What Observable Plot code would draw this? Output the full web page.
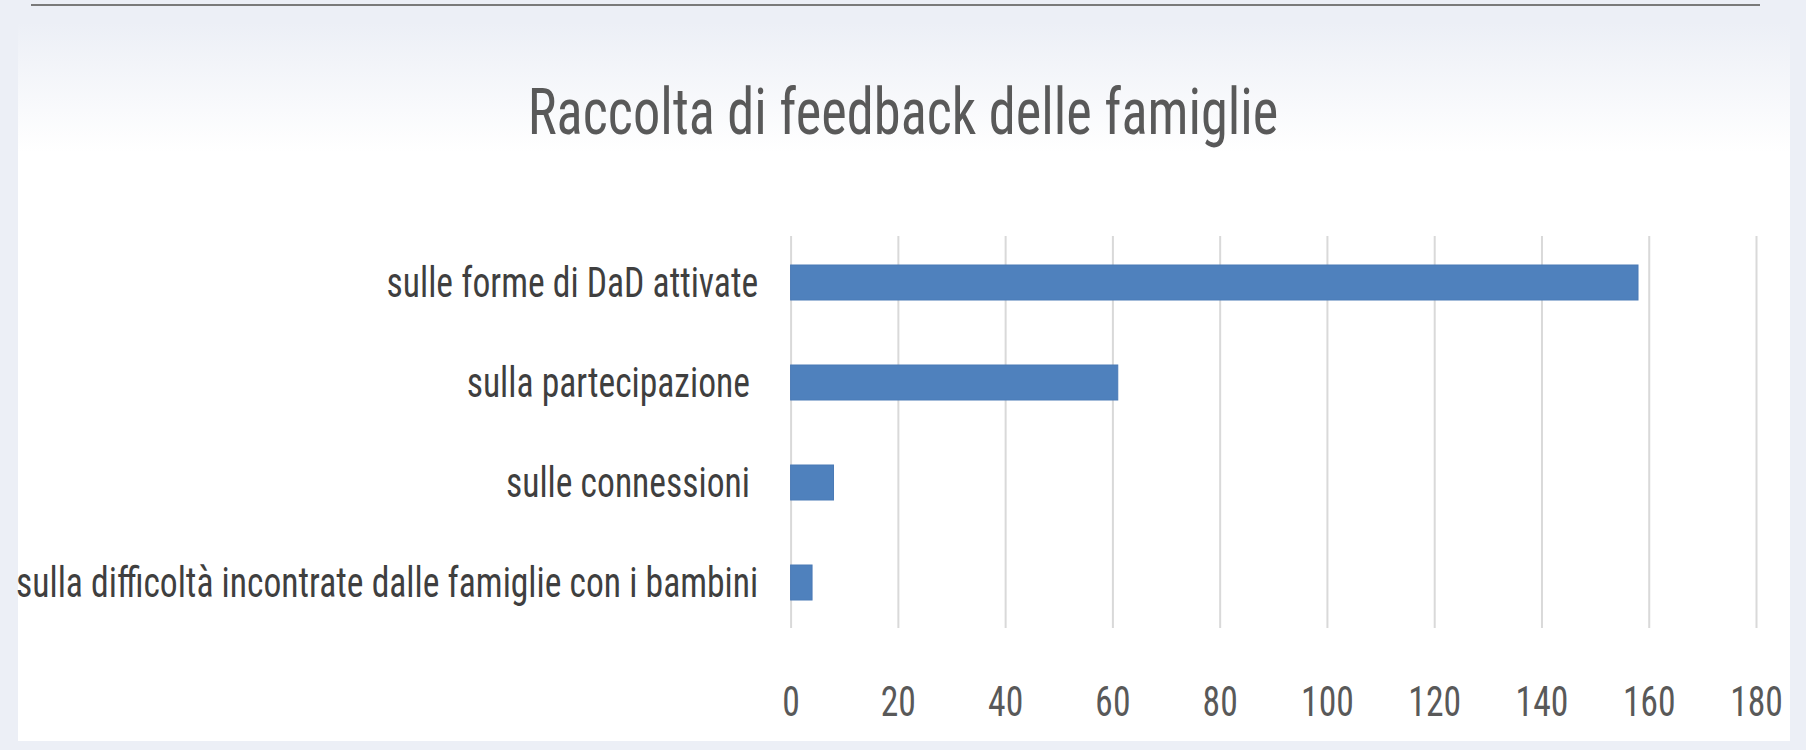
<!DOCTYPE html>
<html>
<head>
<meta charset="utf-8">
<script src="https://cdn.jsdelivr.net/npm/d3@7"></script>
<script src="https://cdn.jsdelivr.net/npm/@observablehq/plot@0.6"></script>
<style>
  html, body { margin: 0; padding: 0; }
  body { width: 1806px; height: 750px; position: relative; overflow: hidden; background: #eceff6;
         font-family: "Roboto Condensed", "DejaVu Sans Condensed", sans-serif; }
  #topline { position: absolute; left: 31px; top: 4px; width: 1729px; height: 2px; background: #7a7a7a; }
  #panel { position: absolute; left: 18px; top: 22px; width: 1772px; height: 719px;
           background: linear-gradient(to bottom, #eceff6 0px, #ffffff 130px); }
  #title { position: absolute; left: 0; width: 1806px; top: 86px; text-align: center;
           font-size: 54.4px; line-height: 1; color: #595959; transform: scaleY(1.19); transform-origin: center; }
  #chart { position: absolute; left: 0; top: 180px; }
  #chart text { white-space: pre; }
</style>
</head>
<body>
<div id="topline"></div>
<div id="panel"></div>
<div id="title">Raccolta di feedback delle famiglie</div>
<div id="chart"></div>
<script>
const categories = [
  "sulle forme di DaD attivate",
  "sulla partecipazione ",
  "sulle connessioni ",
  "sulla difficoltà incontrate dalle famiglie con i bambini"
];
const values = [158, 61, 8, 4];
const xTicks = [0, 20, 40, 60, 80, 100, 120, 140, 160, 180];

const data = categories.map((c, i) => ({category: c, value: values[i]}));

const chart = Plot.plot({
  width: 1806,
  height: 560,
  marginLeft: 790.6,
  marginRight: 50,
  marginTop: 56,
  marginBottom: 112,
  style: {background: "transparent", fontFamily: '"Roboto Condensed", "DejaVu Sans Condensed", sans-serif', overflow: "visible"},
  x: {domain: [0, 180], ticks: xTicks, label: null},
  y: {domain: categories, paddingInner: 0.65, paddingOuter: 0.285, label: null},
  marks: [
    Plot.gridX(xTicks, {stroke: "#d9d9d9", strokeOpacity: 1, strokeWidth: 2}),
    Plot.barX(data, {x: "value", y: "category", fill: "#4f81bd", stroke: "#4a7ab6", strokeWidth: 1}),
    Plot.axisX({ticks: xTicks, tickSize: 0, tickPadding: 57, fontSize: 35.6, fill: "#595959", label: null}),
    Plot.axisY({tickSize: 0, tickPadding: 33, fontSize: 35.6, fill: "#3f3f3f", label: null})
  ]
});
document.getElementById("chart").appendChild(chart);

// vertical stretch of text glyphs (condensed look of the original)
d3.select(chart).selectAll("text").each(function () {
  const t = this.getAttribute("transform") || "";
  this.setAttribute("transform", t + " scale(1,1.21)");
});
</script>
</body>
</html>
